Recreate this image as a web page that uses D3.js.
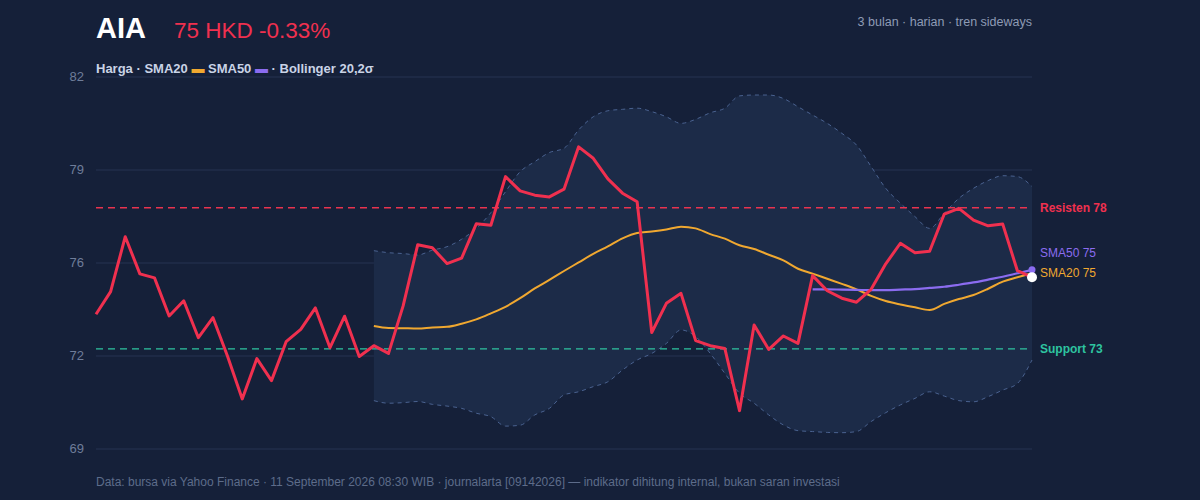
<!DOCTYPE html>
<html><head><meta charset="utf-8">
<script src="https://cdn.jsdelivr.net/npm/d3@7"></script>
<style>body{margin:0;background:#152039;}svg{display:block;font-family:"Helvetica Neue",Arial,"Liberation Sans",sans-serif;}</style>
</head><body><svg id="c" width="1200" height="500"></svg>
<script>
const price=[73.71,74.50,76.42,75.12,74.98,73.65,74.18,72.89,73.59,72.23,70.75,72.16,71.39,72.75,73.18,73.93,72.54,73.64,72.23,72.61,72.34,74.0,76.14,76.03,75.48,75.67,76.87,76.82,78.52,78.02,77.87,77.81,78.08,79.56,79.16,78.44,77.94,77.64,73.07,74.09,74.44,72.79,72.61,72.51,70.34,73.33,72.48,72.95,72.69,75.06,74.53,74.27,74.13,74.58,75.47,76.19,75.86,75.91,77.21,77.41,77.0,76.80,76.86,75.23,75.0];
const sma20Start=19;
const sma20=[73.30,73.23,73.22,73.21,73.25,73.27,73.38,73.53,73.74,73.97,74.27,74.61,74.91,75.22,75.52,75.82,76.08,76.36,76.55,76.60,76.67,76.77,76.71,76.51,76.35,76.12,75.99,75.79,75.59,75.30,75.13,74.95,74.77,74.58,74.35,74.17,74.05,73.95,73.86,74.07,74.24,74.38,74.60,74.85,75.00,75.14];
const sma50Start=49;
const sma50=[74.58,74.58,74.57,74.56,74.55,74.55,74.57,74.59,74.63,74.67,74.74,74.82,74.92,75.02,75.14,75.26];
const bbUpper=[75.93,75.86,75.83,75.78,75.95,76.07,76.33,76.71,77.26,77.99,78.69,79.04,79.36,79.51,80.15,80.61,80.82,80.87,80.91,80.79,80.61,80.38,80.52,80.75,80.91,81.34,81.37,81.37,81.25,80.96,80.67,80.38,80.03,79.62,78.87,78.11,77.59,77.12,76.71,77.24,77.76,78.11,78.38,78.55,78.52,78.17];
const bbLower=[70.69,70.60,70.62,70.66,70.56,70.50,70.42,70.25,70.13,69.80,69.83,70.19,70.42,70.89,71.00,71.18,71.35,71.76,72.11,72.34,72.69,73.16,72.93,72.34,71.64,70.95,70.60,70.19,69.84,69.64,69.61,69.58,69.57,69.61,69.96,70.27,70.54,70.77,71.00,70.85,70.69,70.65,70.83,71.06,71.29,72.11];
const yTicks=[69,72.25,75.5,78.75,82];
const yTickLabels=["69","72","76","79","82"];
const resistance=77.43, support=72.5;
const labels={res:"Resisten 78",sup:"Support 73",s50:"SMA50 75",s20:"SMA20 75"};

const svg=d3.select("#c");
const x=d3.scaleLinear().domain([0,price.length-1]).range([96,1032]);
const y=d3.scaleLinear().domain([69,82]).range([449,77]);
svg.append("rect").attr("width",1200).attr("height",500).attr("fill","#152039");
svg.selectAll(".g").data(yTicks).join("line").attr("x1",96).attr("x2",1032).attr("y1",d=>y(d)).attr("y2",d=>y(d)).attr("stroke","#202d4a").attr("stroke-width",1.5);
svg.selectAll(".yl").data(yTicks).join("text").attr("x",84).attr("y",d=>y(d)+4).attr("text-anchor","end").attr("fill","#6f7d99").attr("font-size",13).text((d,i)=>yTickLabels[i]);
const bb=bbUpper.map((u,i)=>({i:i+sma20Start,u,l:bbLower[i]}));
svg.append("path").datum(bb).attr("d",d3.area().x(d=>x(d.i)).y0(d=>y(d.l)).y1(d=>y(d.u)).curve(d3.curveMonotoneX)).attr("fill","#1c2b48");
["u","l"].forEach(k=>svg.append("path").datum(bb).attr("d",d3.line().x(d=>x(d.i)).y(d=>y(d[k])).curve(d3.curveMonotoneX)).attr("fill","none").attr("stroke","#4a6290").attr("stroke-width",1).attr("stroke-dasharray","4,4"));
svg.append("line").attr("x1",96).attr("x2",1032).attr("y1",y(resistance)).attr("y2",y(resistance)).attr("stroke","#e8334f").attr("stroke-width",1.3).attr("stroke-dasharray","7,5");
svg.append("line").attr("x1",96).attr("x2",1032).attr("y1",y(support)).attr("y2",y(support)).attr("stroke","#2ec4a0").attr("stroke-width",1.3).attr("stroke-dasharray","7,5");
const l=d3.line().x(d=>x(d[0])).y(d=>y(d[1])).curve(d3.curveMonotoneX);
svg.append("path").datum(sma20.map((v,i)=>[i+sma20Start,v])).attr("d",l).attr("fill","none").attr("stroke","#f0a830").attr("stroke-width",2);
svg.append("path").datum(sma50.map((v,i)=>[i+sma50Start,v])).attr("d",l).attr("fill","none").attr("stroke","#8b6cf0").attr("stroke-width",2.2);
svg.append("path").datum(price.map((v,i)=>[i,v])).attr("d",d3.line().x(d=>x(d[0])).y(d=>y(d[1]))).attr("fill","none").attr("stroke","#f0304f").attr("stroke-width",3).attr("stroke-linejoin","round");
const n=price.length-1;
svg.append("circle").attr("cx",x(n)).attr("cy",y(sma50[sma50.length-1])).attr("r",3.5).attr("fill","#8b6cf0");
svg.append("circle").attr("cx",x(n)).attr("cy",y(price[n])).attr("r",5).attr("fill","#ffffff");
svg.append("text").attr("x",1040).attr("y",y(resistance)+4).attr("fill","#f0304f").attr("font-size",12).attr("font-weight","bold").text(labels.res);
svg.append("text").attr("x",1040).attr("y",y(support)+4).attr("fill","#2ec4a0").attr("font-size",12).attr("font-weight","bold").text(labels.sup);
svg.append("text").attr("x",1040).attr("y",257).attr("fill","#8b6cf0").attr("font-size",12).text(labels.s50);
svg.append("text").attr("x",1040).attr("y",277).attr("fill","#f0a830").attr("font-size",12).text(labels.s20);
svg.append("text").attr("x",96).attr("y",38).attr("fill","#ffffff").attr("font-size",29).attr("font-weight","bold").text("AIA");
svg.append("text").attr("x",174).attr("y",38).attr("fill","#f0304f").attr("font-size",22.5).text("75 HKD -0.33%");
svg.append("text").attr("x",1032).attr("y",26).attr("text-anchor","end").attr("fill","#8e9bb5").attr("font-size",12.5).text("3 bulan · harian · tren sideways");
const lg=svg.append("text").attr("x",96).attr("y",73).attr("fill","#c9d3e6").attr("font-size",13).attr("font-weight","bold");
lg.append("tspan").text("Harga · SMA20 ");
lg.append("tspan").attr("fill","#f0a830").text("▬");
lg.append("tspan").text(" SMA50 ");
lg.append("tspan").attr("fill","#8b6cf0").text("▬");
lg.append("tspan").text(" · Bollinger 20,2σ");
svg.append("text").attr("x",96).attr("y",486).attr("fill","#5d6c8a").attr("font-size",12).text("Data: bursa via Yahoo Finance · 11 September 2026 08:30 WIB · journalarta [09142026] — indikator dihitung internal, bukan saran investasi");
</script></body></html>
